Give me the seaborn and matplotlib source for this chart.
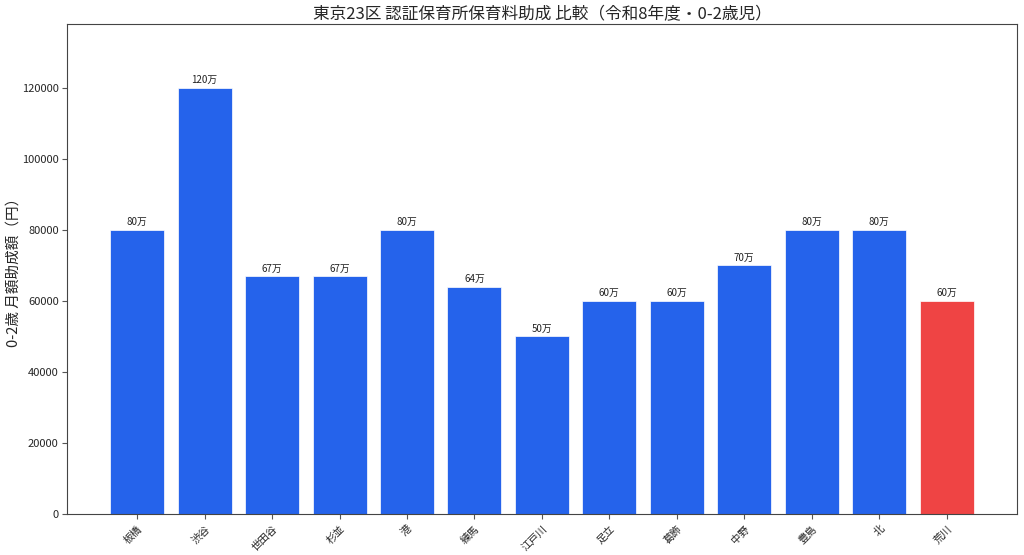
import matplotlib
matplotlib.use("Agg")
import matplotlib.pyplot as plt
import seaborn as sns
import pandas as pd

wards = ["板橋", "渋谷", "世田谷", "杉並", "港", "練馬", "江戸川",
         "足立", "葛飾", "中野", "豊島", "北", "荒川"]
subsidy = [80000, 120000, 67000, 67000, 80000, 64000, 50000,
           60000, 60000, 70000, 80000, 80000, 60000]
highlight = "荒川"

sns.set_style("white")
plt.rcParams['font.family'] = ['Noto Sans CJK JP', 'DejaVu Sans']

df = pd.DataFrame({"ward": wards, "subsidy": subsidy})
palette = {w: ("#ef4444" if w == highlight else "#2563eb") for w in wards}

fig, ax = plt.subplots(figsize=(10.24, 5.55), dpi=100)
sns.barplot(data=df, x="ward", y="subsidy", hue="ward", palette=palette,
            legend=False, width=0.8, edgecolor="white", linewidth=0.5,
            saturation=1, ax=ax)

# labels as shown on the original chart
for i, v in enumerate(subsidy):
    ax.text(i, v + 700, f"{v // 1000}万",
            ha="center", va="bottom", fontsize=7, color="#222222")

n = len(wards)
pad = (n - 1 + 0.8) * 0.05
ax.set_xlim(-0.4 - pad, n - 1 + 0.4 + pad)
ax.set_ylim(0, max(subsidy) * 1.15)

ax.set_title("東京23区 認証保育所保育料助成 比較（令和8年度・0-2歳児）",
             fontsize=12, pad=3)
ax.set_ylabel("0-2歳 月額助成額（円）", fontsize=10.5, labelpad=1)
ax.set_xlabel("")
ax.tick_params(axis="y", labelsize=8, left=True, length=3.5, pad=2.5,
               color="#555555")
ax.tick_params(axis="x", labelsize=7.5, bottom=True, length=3.5, color="#555555")
plt.setp(ax.get_xticklabels(), rotation=45, ha="right", rotation_mode="anchor")
for s in ax.spines.values():
    s.set_color("#444444")
    s.set_linewidth(0.8)

fig.subplots_adjust(left=0.0654, right=0.993, top=0.957, bottom=0.074)
plt.savefig("out.png", dpi=100)
